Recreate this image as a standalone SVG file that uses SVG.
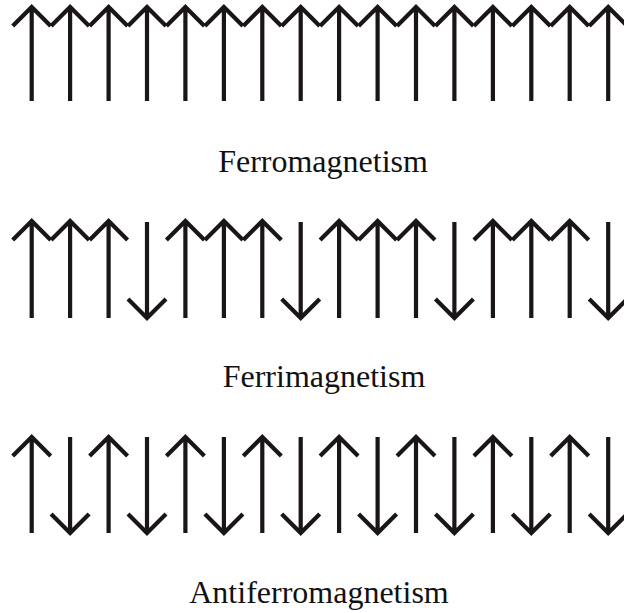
<svg xmlns="http://www.w3.org/2000/svg" xmlns:xlink="http://www.w3.org/1999/xlink" width="624" height="613" viewBox="0 0 624 613">
<style>
.a{fill:none;stroke:#1b1616;stroke-width:4.2;stroke-linecap:butt;stroke-linejoin:miter}
.t{font-family:"Liberation Serif","Times New Roman",serif;font-size:32px;fill:#111;text-anchor:middle}
</style>
<defs>
<path id="up1" class="a" d="M0,7 V101 M-19,26 L0,7 L19,26"/>
<path id="up2" class="a" d="M0,221 V318 M-19,240 L0,221 L19,240"/>
<path id="dn2" class="a" d="M0,318 V222 M-19,299 L0,318 L19,299"/>
<path id="up3" class="a" d="M0,437 V533 M-19,456 L0,437 L19,456"/>
<path id="dn3" class="a" d="M0,533 V437 M-19,514 L0,533 L19,514"/>
</defs>
<rect width="624" height="613" fill="#fff"/>
<g id="ferro">
<use href="#up1" x="31.7"/><use href="#up1" x="70.1"/><use href="#up1" x="108.6"/><use href="#up1" x="147"/>
<use href="#up1" x="185.4"/><use href="#up1" x="223.9"/><use href="#up1" x="262.3"/><use href="#up1" x="300.7"/>
<use href="#up1" x="339.1"/><use href="#up1" x="377.6"/><use href="#up1" x="416"/><use href="#up1" x="454.4"/>
<use href="#up1" x="492.9"/><use href="#up1" x="531.3"/><use href="#up1" x="569.7"/><use href="#up1" x="608.2"/>
<text class="t" x="323" y="172">Ferromagnetism</text>
</g>
<g id="ferri">
<use href="#up2" x="31.7"/><use href="#up2" x="70.1"/><use href="#up2" x="108.6"/><use href="#dn2" x="147"/>
<use href="#up2" x="185.4"/><use href="#up2" x="223.9"/><use href="#up2" x="262.3"/><use href="#dn2" x="300.7"/>
<use href="#up2" x="339.1"/><use href="#up2" x="377.6"/><use href="#up2" x="416"/><use href="#dn2" x="454.4"/>
<use href="#up2" x="492.9"/><use href="#up2" x="531.3"/><use href="#up2" x="569.7"/><use href="#dn2" x="608.2"/>
<text class="t" x="324" y="387">Ferrimagnetism</text>
</g>
<g id="antiferro">
<use href="#up3" x="31.7"/><use href="#dn3" x="70.1"/><use href="#up3" x="108.6"/><use href="#dn3" x="147"/>
<use href="#up3" x="185.4"/><use href="#dn3" x="223.9"/><use href="#up3" x="262.3"/><use href="#dn3" x="300.7"/>
<use href="#up3" x="339.1"/><use href="#dn3" x="377.6"/><use href="#up3" x="416"/><use href="#dn3" x="454.4"/>
<use href="#up3" x="492.9"/><use href="#dn3" x="531.3"/><use href="#up3" x="569.7"/><use href="#dn3" x="608.2"/>
<text class="t" x="319" y="603">Antiferromagnetism</text>
</g>
</svg>
